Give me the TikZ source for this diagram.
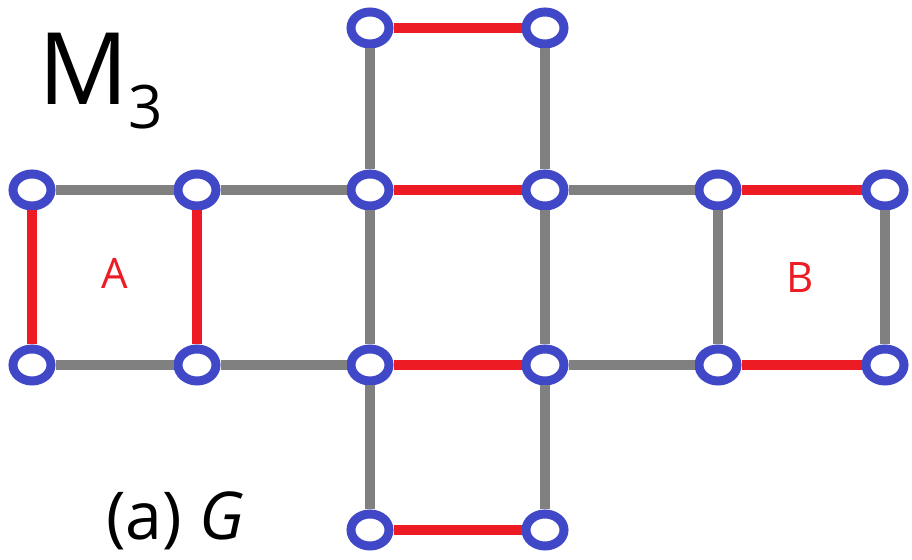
\documentclass[tikz,border=0pt]{standalone}
\usepackage{fontspec}
\setmainfont{Open Sans}
\usetikzlibrary{shapes.geometric}
\definecolor{vblue}{RGB}{64,72,200}
\definecolor{ered}{RGB}{237,28,36}
\definecolor{egray}{RGB}{128,128,128}
\tikzstyle{vertex} = [ellipse, draw=vblue, fill=white, line width=4.5pt, minimum width=19pt, minimum height=16pt, inner sep=0pt]
\tikzstyle{gedge} = [draw=egray, line width=5pt]
\tikzstyle{redge} = [draw=ered, line width=5pt]
\tikzstyle{face} = [text=ered, font=\fontsize{21}{21}\selectfont]

\begin{document}
\begin{tikzpicture}[x=0.5pt, y=-0.5pt]
    \useasboundingbox (0,0) rectangle (912,560);
    % vertices
    \node (t1) [vertex] at (370,28) {};
    \node (t2) [vertex] at (545,28) {};
    \node (a1) [vertex] at (32,190) {};
    \node (a2) [vertex] at (197,190) {};
    \node (a3) [vertex] at (370,190) {};
    \node (a4) [vertex] at (545,190) {};
    \node (a5) [vertex] at (718,190) {};
    \node (a6) [vertex] at (885,190) {};
    \node (b1) [vertex] at (32,365) {};
    \node (b2) [vertex] at (197,365) {};
    \node (b3) [vertex] at (370,365) {};
    \node (b4) [vertex] at (545,365) {};
    \node (b5) [vertex] at (718,365) {};
    \node (b6) [vertex] at (885,365) {};
    \node (d1) [vertex] at (370,530) {};
    \node (d2) [vertex] at (545,530) {};

    % gray edges
    \draw[gedge] (t1) -- (a3);
    \draw[gedge] (t2) -- (a4);
    \draw[gedge] (a1) -- (a2);
    \draw[gedge] (a2) -- (a3);
    \draw[gedge] (a4) -- (a5);
    \draw[gedge] (b1) -- (b2);
    \draw[gedge] (b2) -- (b3);
    \draw[gedge] (b4) -- (b5);
    \draw[gedge] (a3) -- (b3);
    \draw[gedge] (a4) -- (b4);
    \draw[gedge] (a5) -- (b5);
    \draw[gedge] (a6) -- (b6);
    \draw[gedge] (b3) -- (d1);
    \draw[gedge] (b4) -- (d2);

    % red edges
    \draw[redge] (t1) -- (t2);
    \draw[redge] (a3) -- (a4);
    \draw[redge] (b3) -- (b4);
    \draw[redge] (d1) -- (d2);
    \draw[redge] (a1) -- (b1);
    \draw[redge] (a2) -- (b2);
    \draw[redge] (a5) -- (a6);
    \draw[redge] (b5) -- (b6);

    % labels
    \node (fa) [face] at (115,273) {A};
    \node (fb) [face] at (800,278) {B};
    \node (title) [anchor=base west, inner sep=0pt] at (38,105)
        {\fontsize{50}{50}\selectfont M\raisebox{-12pt}{\fontsize{30}{30}\selectfont 3}};
    \node (caption) [anchor=base, inner sep=0pt] at (175,540)
        {\fontsize{33}{33}\selectfont (a) \textit{G}};
\end{tikzpicture}
\end{document}
